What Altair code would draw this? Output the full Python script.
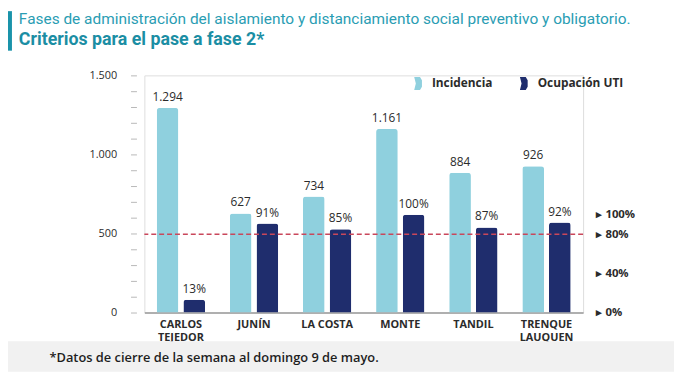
import altair as alt
import pandas as pd

categories = ["CARLOS|TEJEDOR", "JUNÍN", "LA COSTA", "MONTE", "TANDIL", "TRENQUE|LAUQUEN"]
incidencia = [1294, 627, 734, 1161, 884, 926]
ocupacion = [0.13, 0.91, 0.85, 1.00, 0.87, 0.92]
inc_labels = ["1.294", "627", "734", "1.161", "884", "926"]
occ_labels = ["13%", "91%", "85%", "100%", "87%", "92%"]
left_ticks = list(range(0, 1501, 100))
right_ticks = [0, 0.4, 0.8, 1.0]
umbral = [0.8]
series = ["Incidencia", "Ocupación UTI"]
title_line1 = ["Fases de administración del aislamiento y distanciamiento social preventivo y obligatorio."]
title_line2 = ["Criterios para el pase a fase 2*"]
footer = ["*Datos de cierre de la semana al domingo 9 de mayo."]

LIGHT = "#8fd0de"
NAVY = "#1f2d6d"
FONT = "Open Sans"

df = pd.DataFrame({
    "cat": categories, "inc": incidencia, "occ": ocupacion,
    "inc_label": inc_labels, "occ_label": occ_labels,
    "s_inc": series[0], "s_occ": series[1],
})

W, H = 444, 240
x = alt.X("cat:N", sort=categories, title=None,
          scale=alt.Scale(paddingInner=0.0, paddingOuter=0.0),
          axis=alt.Axis(labelExpr="split(datum.label, '|')", labelAngle=0,
                        labelFont=FONT, labelFontWeight="bold", labelFontSize=11,
                        labelColor="#2b2b2b", domainColor="#9a9a9a", domainWidth=1.5,
                        ticks=False, labelPadding=6, labelLineHeight=13))

color_scale = alt.Scale(domain=series, range=[LIGHT, NAVY])
legend = alt.Legend(title=None, orient="none", legendX=270, legendY=1, direction="horizontal",
                    symbolType="M-0.6,-1 L0.3,-1 L0.6,-0.5 L0.6,0.5 L0.3,1 L-0.6,1 L-0.35,0 Z",
                    symbolSize=170, symbolStrokeWidth=0, labelFont=FONT, labelFontWeight="bold",
                    labelFontSize=12, labelColor="#2b2b2b", columnPadding=24, labelOffset=7)

left_scale = alt.Scale(domain=[0, 1500], nice=False)
left_axis = alt.Axis(values=left_ticks, grid=False, domain=False, tickColor="#b8b8b8",
                     tickSize=6, labelPadding=14, labelOverlap=False,
                     labelExpr="datum.value % 500 == 0 ? replace(format(datum.value, ','), ',', '.') : ''",
                     labelFont=FONT, labelFontSize=11, labelColor="#2b2b2b", offset=8)

RMAX = 2.424
right_scale = alt.Scale(domain=[0, RMAX], nice=False)
right_axis = alt.Axis(orient="right", values=right_ticks, grid=False, domain=False, ticks=False,
                      labelExpr="'▸  ' + format(datum.value, '.0%')", labelPadding=13, labelOverlap=False,
                      labelFont=FONT, labelFontWeight="bold", labelFontSize=11.5, labelColor="#2b2b2b")

inc_bars = alt.Chart(df).mark_bar(width=22, xOffset=-13.5, cornerRadiusTopLeft=3, cornerRadiusTopRight=3).encode(
    x=x, y=alt.Y("inc:Q", title=None, scale=left_scale, axis=left_axis),
    color=alt.Color("s_inc:N", scale=color_scale, legend=legend))
inc_text = alt.Chart(df).mark_text(xOffset=-13.5, dy=-11, font=FONT, fontSize=12, color="#2b2b2b").encode(
    x=x, y=alt.Y("inc:Q", title=None, scale=left_scale, axis=left_axis), text="inc_label:N")
left = alt.layer(inc_bars, inc_text)

occ_bars = alt.Chart(df).mark_bar(width=22, xOffset=13.5, cornerRadiusTopLeft=3, cornerRadiusTopRight=3).encode(
    x=x, y=alt.Y("occ:Q", title=None, scale=right_scale, axis=right_axis),
    color=alt.Color("s_occ:N", scale=color_scale, legend=legend))
occ_text = alt.Chart(df).mark_text(xOffset=13.5, dy=-11, font=FONT, fontSize=12, color="#2b2b2b").encode(
    x=x, y=alt.Y("occ:Q", title=None, scale=right_scale, axis=right_axis), text="occ_label:N")
rule = alt.Chart(pd.DataFrame({"u": umbral})).mark_rule(color="#c9475b", strokeDash=[5, 3], strokeWidth=1.3).encode(
    y=alt.Y("u:Q", title=None, scale=right_scale, axis=right_axis))
right = alt.layer(occ_bars, occ_text, rule)

bar_deco = alt.Chart(pd.DataFrame({"a": [1]})).mark_rule(color="#1a93aa", strokeWidth=4).encode(
    x=alt.value(-136), y=alt.value(-65), y2=alt.value(-25))
t1 = alt.Chart(pd.DataFrame({"t": title_line1})).mark_text(
    align="left", baseline="middle", font="Roboto", fontSize=15.6, color="#2a9db3").encode(
    x=alt.value(-127), y=alt.value(-57), text="t:N")
t2 = alt.Chart(pd.DataFrame({"t": title_line2})).mark_text(
    align="left", baseline="middle", font="Roboto", fontSize=18, fontWeight="bold", color="#1b8ea4").encode(
    x=alt.value(-127), y=alt.value(-36), text="t:N")
foot = alt.Chart(pd.DataFrame({"t": footer})).mark_text(
    align="left", baseline="middle", font=FONT, fontSize=13, fontWeight=600, color="#1e1e1e").encode(
    x=alt.value(-96), y=alt.value(286), text="t:N")
band = alt.Chart(pd.DataFrame({"a": [1]})).mark_rect(color="#f1f1f1").encode(
    x=alt.value(-146), x2=alt.value(W + 100), y=alt.value(269), y2=alt.value(300))

chart = alt.layer(band, left, right, bar_deco, t1, t2, foot).resolve_scale(y="independent").properties(
    width=W, height=H,
    autosize=alt.AutoSizeParams(type="none"),
    padding={"left": 138, "top": 66, "right": 92, "bottom": 58},
).configure_view(stroke=None).configure(background="white")

chart.save("out.html", embed_options={"renderer": "svg", "actions": False})
